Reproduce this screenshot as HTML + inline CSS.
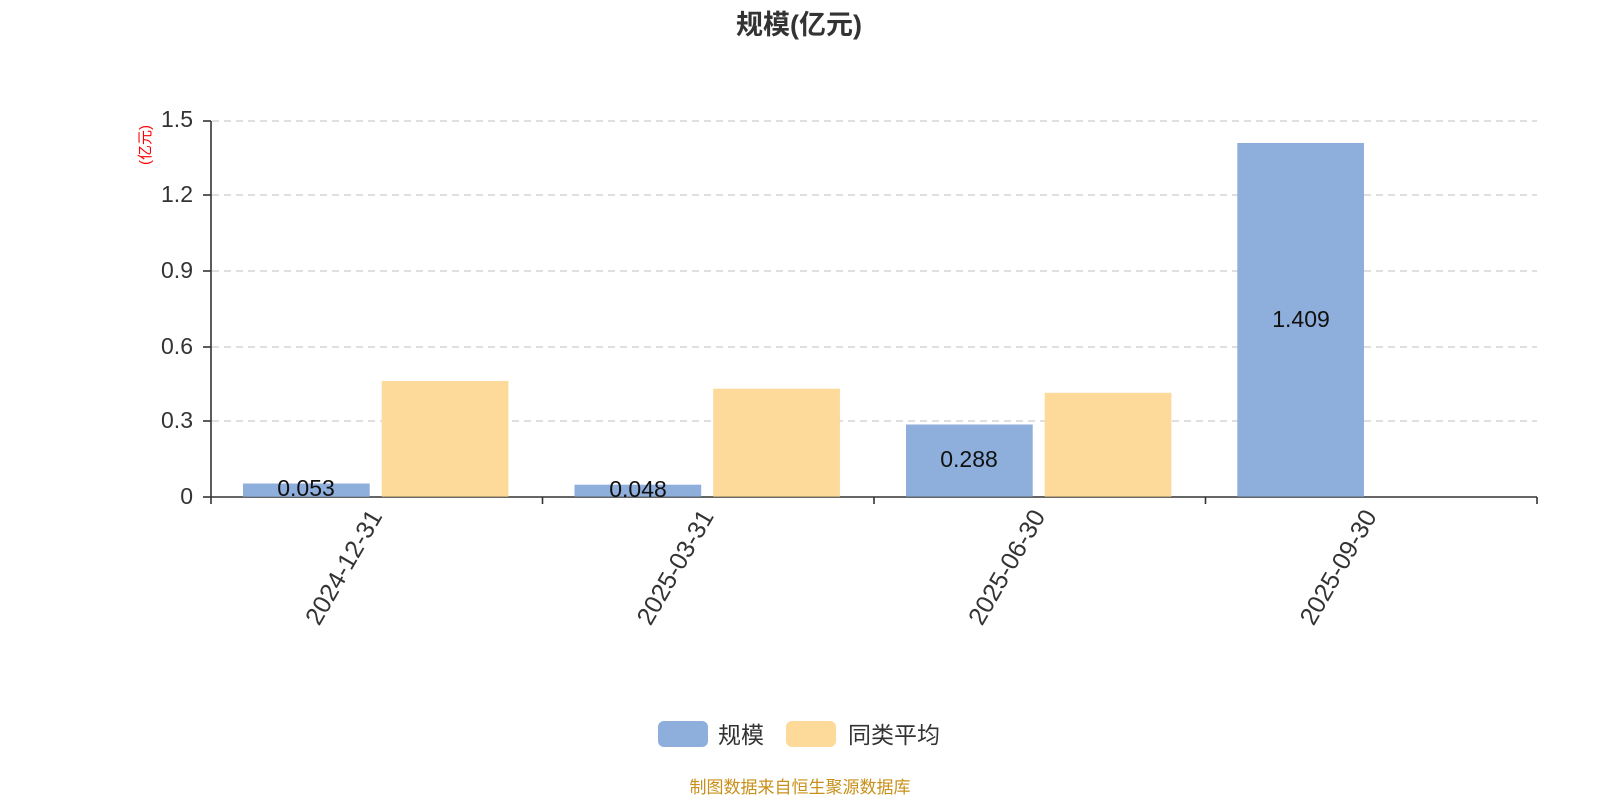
<!DOCTYPE html>
<html><head><meta charset="utf-8"><style>
body{margin:0;background:#fff;width:1600px;height:800px;overflow:hidden}
svg text{font-family:"Liberation Sans","Noto Sans CJK SC",sans-serif}
</style></head><body>
<svg width="1600" height="800" xmlns="http://www.w3.org/2000/svg">
<text x="799" y="34" font-size="27" font-weight="bold" fill="#333" text-anchor="middle">规模(亿元)</text>
<g stroke="#ccc" stroke-dasharray="7,5" stroke-width="1.3">
<line x1="212" y1="121" x2="1537" y2="121"/>
<line x1="212" y1="195" x2="1537" y2="195"/>
<line x1="212" y1="271" x2="1537" y2="271"/>
<line x1="212" y1="347" x2="1537" y2="347"/>
<line x1="212" y1="421" x2="1537" y2="421"/>
</g>
<g fill="#333" font-size="23" text-anchor="end">
<text x="193" y="127">1.5</text><text x="193" y="202">1.2</text><text x="193" y="278">0.9</text><text x="193" y="354">0.6</text><text x="193" y="428">0.3</text><text x="193" y="504">0</text>
</g>
<text transform="translate(150,145) rotate(-90)" font-size="15" fill="#f00" text-anchor="middle">(亿元)</text>
<g stroke="#333" stroke-width="1.6">
<line x1="211" y1="121" x2="211" y2="504"/>
<line x1="203" y1="121" x2="211" y2="121"/><line x1="203" y1="195" x2="211" y2="195"/><line x1="203" y1="271" x2="211" y2="271"/><line x1="203" y1="347" x2="211" y2="347"/><line x1="203" y1="421" x2="211" y2="421"/><line x1="203" y1="497" x2="211" y2="497"/>
<line x1="211" y1="497" x2="1537" y2="497"/>
<line x1="542.5" y1="497" x2="542.5" y2="504"/><line x1="874" y1="497" x2="874" y2="504"/><line x1="1205.5" y1="497" x2="1205.5" y2="504"/><line x1="1537" y1="497" x2="1537" y2="504"/>
</g>
<g fill="#8eaedb">
<rect x="243" y="483.5" width="126.7" height="13.3"/>
<rect x="574.5" y="484.7" width="126.7" height="12"/>
<rect x="906" y="424.5" width="126.7" height="72.2"/>
<rect x="1237.3" y="143" width="126.7" height="353.7"/>
</g>
<g fill="#fdd99a">
<rect x="381.7" y="381" width="126.7" height="115.7"/>
<rect x="713.2" y="388.7" width="126.7" height="108"/>
<rect x="1044.7" y="392.8" width="126.7" height="103.9"/>
</g>
<g font-size="23" fill="#111" text-anchor="middle">
<text x="306" y="496">0.053</text><text x="638" y="497">0.048</text><text x="969" y="467">0.288</text><text x="1301" y="327">1.409</text>
</g>
<g font-size="25" fill="#333" text-anchor="end">
<text transform="translate(383,516) rotate(-60)">2024-12-31</text>
<text transform="translate(714.5,516) rotate(-60)">2025-03-31</text>
<text transform="translate(1046,516) rotate(-60)">2025-06-30</text>
<text transform="translate(1377.5,516) rotate(-60)">2025-09-30</text>
</g>
<rect x="658" y="721" width="50" height="26" rx="6" fill="#8eaedb"/>
<text x="718" y="743" font-size="23" fill="#333">规模</text>
<rect x="786" y="721" width="50" height="26" rx="6" fill="#fdd99a"/>
<text x="848" y="743" font-size="23" fill="#333">同类平均</text>
<text x="800" y="793" font-size="17" fill="#c8901a" text-anchor="middle">制图数据来自恒生聚源数据库</text>
</svg>
</body></html>
